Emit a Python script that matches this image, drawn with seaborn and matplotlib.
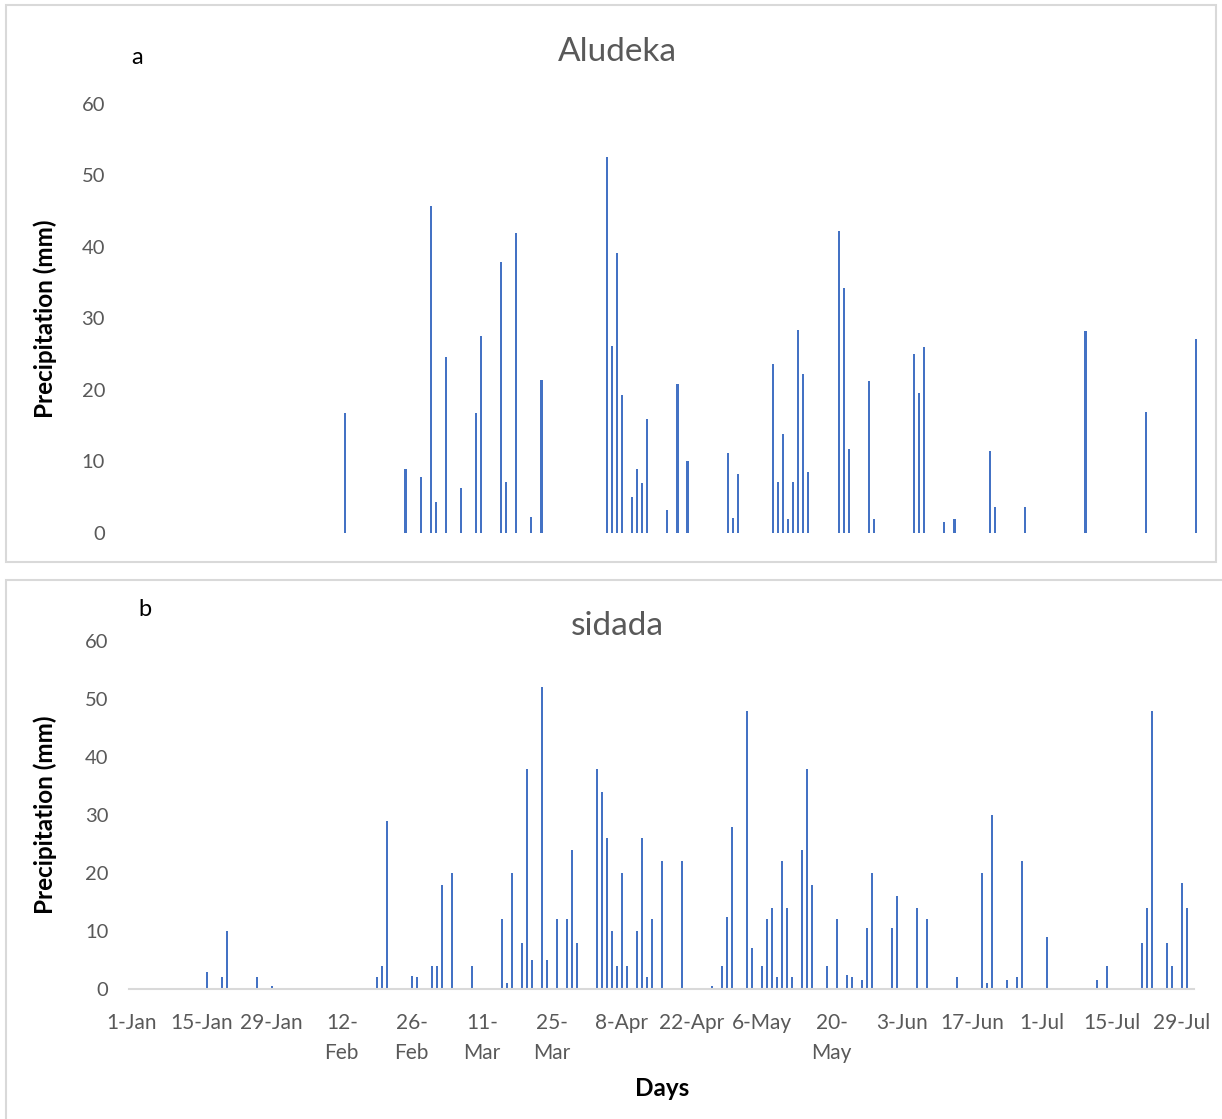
import numpy as np
import pandas as pd
import matplotlib
matplotlib.use("Agg")
import matplotlib.pyplot as plt
import seaborn as sns
from matplotlib.patches import Rectangle

YEAR = 2020  # leap year: 26-Feb + 14 days = 11-Mar

# daily rainfall, panel a
aludeka_dates = ["13-Feb", "25-Feb", "28-Feb", "1-Mar", "2-Mar", "4-Mar", "7-Mar", "10-Mar",
                 "11-Mar", "15-Mar", "16-Mar", "18-Mar", "21-Mar", "23-Mar", "5-Apr", "6-Apr",
                 "7-Apr", "8-Apr", "10-Apr", "11-Apr", "12-Apr", "13-Apr", "17-Apr", "19-Apr",
                 "21-Apr", "29-Apr", "30-Apr", "1-May", "8-May", "9-May", "10-May", "11-May",
                 "12-May", "13-May", "14-May", "15-May", "21-May", "22-May", "23-May", "27-May",
                 "28-May", "5-Jun", "6-Jun", "7-Jun", "11-Jun", "13-Jun", "20-Jun", "21-Jun",
                 "27-Jun", "9-Jul", "21-Jul", "31-Jul"]
aludeka_mm = [16.8, 9.0, 7.8, 45.8, 4.3, 24.6, 6.3, 16.8, 27.5, 37.9, 7.2, 42.0, 2.2, 21.4,
              52.6, 26.1, 39.2, 19.3, 5.0, 9.0, 7.0, 15.9, 3.2, 20.8, 10.0, 11.2, 2.1, 8.3,
              23.7, 7.2, 13.8, 2.0, 7.2, 28.4, 22.2, 8.6, 42.3, 34.2, 11.8, 21.2, 1.9, 25.0,
              19.6, 26.0, 1.6, 2.0, 11.5, 3.7, 3.7, 28.3, 16.9, 27.1]

# daily rainfall, panel b
sidada_dates = ["16-Jan", "19-Jan", "20-Jan", "26-Jan", "29-Jan",
                "19-Feb", "20-Feb", "21-Feb", "26-Feb", "27-Feb",
                "1-Mar", "2-Mar", "3-Mar", "5-Mar", "9-Mar", "15-Mar", "16-Mar", "17-Mar",
                "19-Mar", "20-Mar", "21-Mar", "23-Mar", "24-Mar", "26-Mar", "28-Mar", "29-Mar",
                "30-Mar",
                "3-Apr", "4-Apr", "5-Apr", "6-Apr", "7-Apr", "8-Apr", "9-Apr", "11-Apr",
                "12-Apr", "13-Apr", "14-Apr", "16-Apr", "20-Apr", "26-Apr", "28-Apr", "29-Apr",
                "30-Apr",
                "3-May", "4-May", "6-May", "7-May", "8-May", "9-May", "10-May", "11-May",
                "12-May", "14-May", "15-May", "16-May", "19-May", "21-May", "23-May", "24-May",
                "26-May", "27-May", "28-May",
                "1-Jun", "2-Jun", "6-Jun", "8-Jun", "14-Jun", "19-Jun", "20-Jun", "21-Jun",
                "24-Jun", "26-Jun", "27-Jun",
                "2-Jul", "12-Jul", "14-Jul", "21-Jul", "22-Jul", "23-Jul", "26-Jul", "27-Jul",
                "29-Jul", "30-Jul"]
sidada_mm = [3, 2, 10, 2, 0.5,
             2, 4, 29, 2.2, 2,
             4, 4, 18, 20, 4, 12, 1, 20, 8, 38, 5, 52, 5, 12, 12, 24, 8,
             38, 34, 26, 10, 4, 20, 4, 10, 26, 2, 12, 22, 22, 0.5, 4, 12.5, 28,
             48, 7, 4, 12, 14, 2, 22, 14, 2, 24, 38, 18, 4, 12, 2.5, 2, 1.5, 10.6, 20,
             10.6, 16, 14, 12, 2, 20, 1, 30, 1.5, 2, 22,
             9, 1.5, 4, 8, 14, 48, 8, 4, 18.2, 14]

tick_labels = ["1-Jan", "15-Jan", "29-Jan", "12-\nFeb", "26-\nFeb", "11-\nMar", "25-\nMar",
               "8-Apr", "22-Apr", "6-May", "20-\nMay", "3-Jun", "17-Jun", "1-Jul", "15-Jul",
               "29-Jul"]

W, H = 1222, 1119
BLUE = "#4472C4"
GREY = "#595959"
N_DAYS = 213


def day_index(dates):
    d = pd.to_datetime([f"{s}-{YEAR}" for s in dates], format="%d-%b-%Y")
    return d.dayofyear - 1


def main():
    sns.set_style("white")
    plt.rcParams['font.family'] = ['Lato', 'DejaVu Sans']

    fig = plt.figure(figsize=(W / 100, H / 100), dpi=100)

    # chart frames like the pasted Excel charts
    fig.add_artist(Rectangle((6 / W, 1 - 562 / H), (1216 - 6) / W, (562 - 5) / H,
                             transform=fig.transFigure, fill=False, ec="#d9d9d9", lw=1.5))
    fig.add_artist(Rectangle((6 / W, 1 - 1130 / H), (1240 - 6) / W, (1130 - 580) / H,
                             transform=fig.transFigure, fill=False, ec="#d9d9d9", lw=1.5))

    def panel(box, dates, mm, title, letter, title_y, letter_xy):
        left, top, right, bottom = box
        ax = fig.add_axes([left / W, 1 - bottom / H, (right - left) / W, (bottom - top) / H])
        df = pd.DataFrame({'day': day_index(dates), 'mm': mm})
        sns.barplot(data=df, x='day', y='mm', native_scale=True, width=0.42, color=BLUE,
                    saturation=1, linewidth=0, errorbar=None, ax=ax)
        ax.set_xlim(-0.5, N_DAYS - 0.5)
        ax.set_ylim(0, 60)
        ax.set_yticks(range(0, 61, 10))
        ax.tick_params(axis='y', length=0, pad=15, labelsize=14.5, labelcolor=GREY)
        for s in ax.spines.values():
            s.set_visible(False)
        ax.set_xlabel('')
        ax.set_ylabel('Precipitation (mm)', fontsize=17.5, fontweight='bold', color='black')
        ax.yaxis.set_label_coords((57 - left) / (right - left), 0.5)
        fig.text(617 / W, 1 - title_y / H, title, ha='center', va='center',
                 fontsize=24, color=GREY)
        fig.text(letter_xy[0] / W, 1 - letter_xy[1] / H, letter, ha='center', va='center',
                 fontsize=17, color='black')
        return ax

    ax1 = panel((125.9, 104, 1198.8, 533), aludeka_dates, aludeka_mm, 'Aludeka', 'a', 52, (137, 58))
    ax1.set_xticks([])

    ax2 = panel((129.3, 641, 1194.3, 989), sidada_dates, sidada_mm, 'sidada', 'b', 626, (145, 609))
    ax2.spines['bottom'].set_visible(True)
    ax2.spines['bottom'].set_color('#d9d9d9')
    ax2.spines['bottom'].set_linewidth(1.5)
    ax2.set_xticks(np.arange(0, 211, 14))
    ax2.set_xticklabels(tick_labels, linespacing=1.62)
    ax2.set_xticks(np.arange(-0.5, 210, 14), minor=True)
    ax2.tick_params(axis='x', which='major', length=0, pad=17, labelsize=15, labelcolor=GREY)
    ax2.tick_params(axis='x', which='minor', length=6, width=1.5, color='#d9d9d9', direction='out')
    fig.text(662 / W, 1 - 1089 / H, 'Days', ha='center', va='center', fontsize=17.5,
             fontweight='bold', color='black')

    fig.savefig('out.png', dpi=100)


if __name__ == "__main__":
    main()
